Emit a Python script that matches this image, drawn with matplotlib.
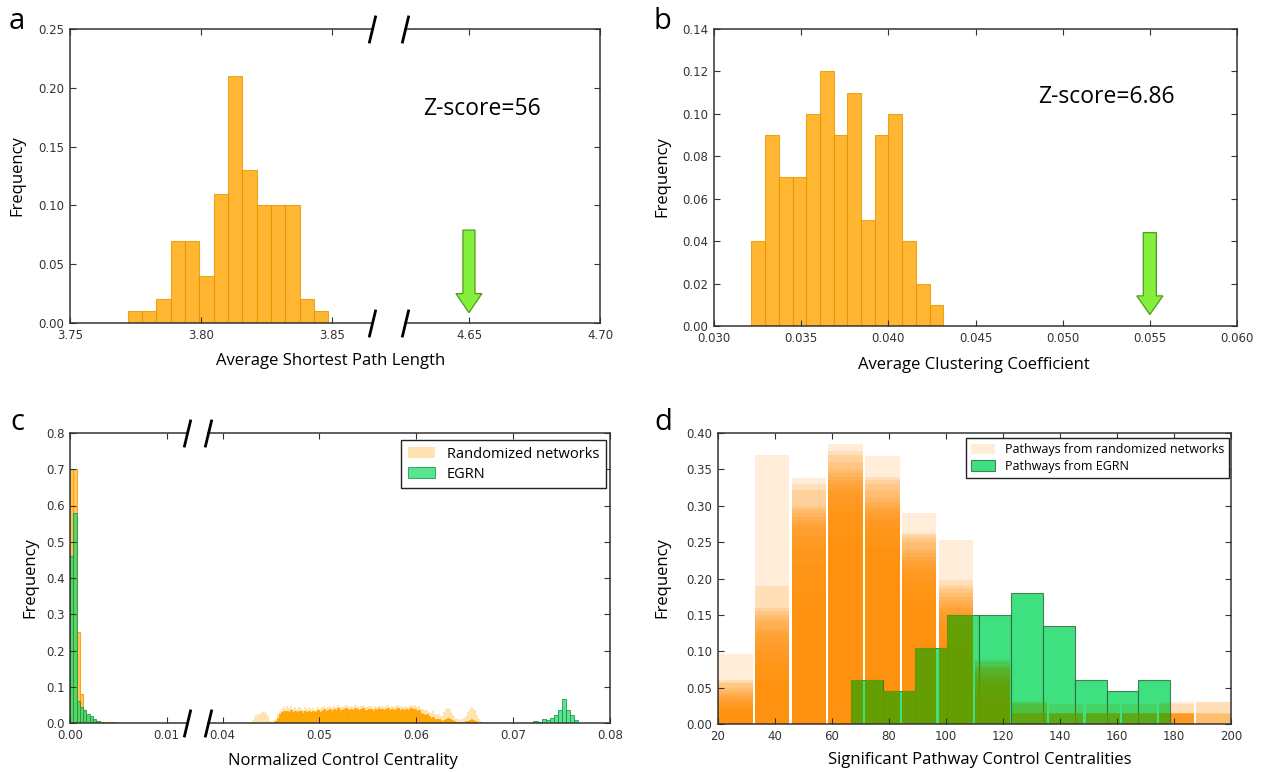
import numpy as np
import matplotlib
matplotlib.use("Agg")
import matplotlib.pyplot as plt
from matplotlib.path import Path
from matplotlib.patches import PathPatch

# ---------------- data ----------------
# (a) average shortest path length of randomized networks
a_range = (3.772, 3.8486)
a_freq = [0.01, 0.01, 0.02, 0.07, 0.07, 0.04, 0.11, 0.21, 0.13, 0.10, 0.10, 0.10, 0.02, 0.01]
a_egrn = 4.65
a_zscore = "Z-score=56"

# (b) average clustering coefficient of randomized networks
b_range = (0.03215, 0.04315)
b_freq = [0.04, 0.09, 0.07, 0.07, 0.10, 0.12, 0.09, 0.11, 0.05, 0.09, 0.10, 0.04, 0.02, 0.01]
b_egrn = 0.055
b_zscore = "Z-score=6.86"

# (c) normalized control centrality
c_bin_left = 0.00034
c_rand_left = [0.70, 0.70, 0.25, 0.08, 0.035, 0.02, 0.012, 0.008, 0.005, 0.004, 0.003,
               0.002, 0.002, 0.0015, 0.001, 0.001] + [0.0] * 20
c_egrn_left = [0.46, 0.58, 0.06, 0.045, 0.035, 0.025, 0.02, 0.01, 0.005, 0.002]

c_rand_start = 0.0386
c_bin_right = 0.0002
c_rand_light = [0.0] * 21 + [
    0.004, 0.008, 0.015, 0.022, 0.026, 0.024,
    0.030, 0.033, 0.028, 0.018, 0.006, 0.004,
    0.008, 0.012, 0.025, 0.034, 0.040, 0.044,
    0.038, 0.046, 0.042, 0.047, 0.040, 0.043,
    0.038, 0.045, 0.041, 0.036, 0.043, 0.040,
    0.044, 0.039, 0.042, 0.037, 0.041, 0.045,
    0.040, 0.043, 0.048, 0.042, 0.044, 0.046,
    0.041, 0.047, 0.044, 0.049, 0.045, 0.043,
    0.047, 0.050, 0.046, 0.044, 0.048, 0.045,
    0.049, 0.046, 0.043, 0.047, 0.050, 0.045,
    0.044, 0.048, 0.046, 0.042, 0.047, 0.044,
    0.050, 0.046, 0.048, 0.044, 0.047, 0.049,
    0.045, 0.048, 0.043, 0.046, 0.049, 0.044,
    0.047, 0.045, 0.048, 0.043, 0.046, 0.050,
    0.047, 0.051, 0.044, 0.048, 0.040, 0.038,
    0.035, 0.037, 0.030, 0.028, 0.032, 0.025,
    0.022, 0.026, 0.020, 0.018, 0.030, 0.038,
    0.042, 0.040, 0.028, 0.018, 0.012, 0.010,
    0.008, 0.012, 0.015, 0.020, 0.030, 0.040,
    0.044, 0.042, 0.036, 0.022, 0.012, 0.006,
    0.004, 0.002]
c_rand_core = [0.0] * 21 + [
    0.0, 0.0, 0.0, 0.0, 0.0, 0.0,
    0.0, 0.0, 0.0, 0.0, 0.0, 0.0,
    0.003, 0.006, 0.015, 0.025, 0.030, 0.033,
    0.028, 0.034, 0.030, 0.036, 0.031, 0.033,
    0.029, 0.034, 0.032, 0.028, 0.033, 0.031,
    0.034, 0.030, 0.033, 0.029, 0.032, 0.036,
    0.031, 0.034, 0.038, 0.033, 0.036, 0.038,
    0.034, 0.039, 0.036, 0.041, 0.037, 0.035,
    0.039, 0.042, 0.038, 0.036, 0.040, 0.037,
    0.041, 0.038, 0.035, 0.039, 0.042, 0.037,
    0.036, 0.040, 0.038, 0.034, 0.039, 0.036,
    0.041, 0.038, 0.040, 0.036, 0.039, 0.041,
    0.037, 0.040, 0.035, 0.038, 0.041, 0.036,
    0.039, 0.037, 0.040, 0.035, 0.038, 0.041,
    0.038, 0.040, 0.034, 0.036, 0.028, 0.025,
    0.022, 0.024, 0.018, 0.015, 0.017, 0.012,
    0.010, 0.012, 0.008, 0.006, 0.008, 0.012,
    0.014, 0.012, 0.008, 0.005, 0.003, 0.002,
    0.002, 0.003, 0.004, 0.005, 0.006, 0.008,
    0.010, 0.008, 0.006, 0.004, 0.002, 0.001,
    0.0, 0.0]
c_egrn_start = 0.0721
c_egrn_bin = 0.00042
c_egrn_right = [0.005, 0.003, 0.012, 0.008, 0.015, 0.022, 0.035, 0.066, 0.035, 0.022, 0.008]
c_labels = ["Randomized networks", "EGRN"]

# (d) significant pathway control centralities
d_rand_first = 20.0
d_rand_bin = 12.9
# one row per bin, values of the overlaid randomized-network histograms
d_rand_layers = [
    [0.096, 0.061, 0.058, 0.056, 0.050, 0.045, 0.043, 0.040, 0.036, 0.032, 0.030, 0.028, 0.025, 0.022, 0.020, 0.018],
    [0.370, 0.190, 0.160, 0.155, 0.150, 0.145, 0.140, 0.130, 0.126, 0.120, 0.110, 0.100, 0.090, 0.080, 0.070, 0.060],
    [0.338, 0.330, 0.322, 0.300, 0.295, 0.290, 0.285, 0.280, 0.275, 0.270, 0.260, 0.250, 0.240, 0.220, 0.200, 0.180],
    [0.385, 0.375, 0.370, 0.360, 0.350, 0.345, 0.340, 0.335, 0.330, 0.325, 0.320, 0.310, 0.300, 0.290, 0.280, 0.260],
    [0.368, 0.340, 0.336, 0.330, 0.320, 0.310, 0.305, 0.300, 0.295, 0.290, 0.285, 0.280, 0.270, 0.260, 0.250, 0.240],
    [0.290, 0.263, 0.260, 0.255, 0.250, 0.240, 0.235, 0.230, 0.225, 0.220, 0.215, 0.210, 0.200, 0.190, 0.180, 0.170],
    [0.253, 0.198, 0.190, 0.185, 0.180, 0.175, 0.170, 0.165, 0.160, 0.155, 0.150, 0.145, 0.140, 0.130, 0.120, 0.110],
    [0.088, 0.085, 0.080, 0.078, 0.075, 0.070, 0.068, 0.065, 0.060, 0.058, 0.055, 0.050, 0.045, 0.040, 0.035, 0.030],
    [0.030, 0.030, 0.028, 0.015, 0.015, 0.015, 0.015, 0.015, 0.014, 0.014, 0.0, 0.0, 0.0, 0.0, 0.0, 0.0],
    [0.028, 0.015, 0.015, 0.015, 0.015, 0.014, 0.014, 0.014, 0.0, 0.0, 0.0, 0.0, 0.0, 0.0, 0.0, 0.0],
    [0.027, 0.015, 0.015, 0.015, 0.015, 0.014, 0.014, 0.014, 0.0, 0.0, 0.0, 0.0, 0.0, 0.0, 0.0, 0.0],
    [0.027, 0.015, 0.015, 0.015, 0.015, 0.014, 0.014, 0.014, 0.0, 0.0, 0.0, 0.0, 0.0, 0.0, 0.0, 0.0],
    [0.030, 0.028, 0.015, 0.015, 0.015, 0.015, 0.015, 0.015, 0.014, 0.014, 0.014, 0.014, 0.0, 0.0, 0.0, 0.0],
    [0.030, 0.030, 0.015, 0.015, 0.014, 0.0, 0.0, 0.0, 0.0, 0.0, 0.0, 0.0, 0.0, 0.0, 0.0, 0.0],
]
d_egrn_first = 66.8
d_egrn_bin = 11.19
d_egrn = [0.06, 0.045, 0.105, 0.15, 0.15, 0.18, 0.135, 0.06, 0.045, 0.06]
d_labels = ["Pathways from randomized networks", "Pathways from EGRN"]

# ---------------- figure ----------------
W, H = 1264, 772
DPI = 100
fig = plt.figure(figsize=(W / DPI, H / DPI), dpi=DPI)
LABEL_FONT = "Open Sans"
TICK_COLOR = "#333333"


def add_ax(x0, x1, y0, y1):
    return fig.add_axes([x0 / W, 1 - y1 / H, (x1 - x0) / W, (y1 - y0) / H])


def style(ax, left=True, right=True):
    ax.tick_params(direction="in", length=4, width=0.8, colors=TICK_COLOR,
                   labelsize=8.5, top=True, bottom=True, left=left, right=right,
                   labelleft=left, labelright=False, pad=4)
    for s in ax.spines.values():
        s.set_color("#333333")
        s.set_linewidth(1.1)
    ax.spines["left"].set_visible(left)
    ax.spines["right"].set_visible(right)


def slashes(ax, x):
    ax.plot([x, x], [0, 1], transform=ax.transAxes, clip_on=False, ls="none",
            marker=[(-0.24, -1), (0.24, 1)], markersize=20, mec="k", mew=2, zorder=10)


def ftext(x, y, s, **kw):
    fig.text(x / W, 1 - y / H, s, **kw)


# ----- panel a -----
aL = add_ax(70, 372, 29, 323)
aR = add_ax(405, 600, 29, 323)
a_edges = np.linspace(a_range[0], a_range[1], len(a_freq) + 1)
for ax in (aL, aR):
    ax.bar(a_edges[:-1], a_freq, width=np.diff(a_edges), align="edge",
           color="orange", alpha=0.8, edgecolor="#e89500", linewidth=0.8)
    ax.set_ylim(0, 0.25)
    ax.set_yticks(np.arange(0, 0.2501, 0.05))
    ax.yaxis.set_major_formatter("{x:.2f}")
    ax.xaxis.set_major_formatter("{x:.2f}")
aL.set_xlim(3.75, 3.8653)
aL.set_xticks([3.75, 3.80, 3.85])
aR.set_xlim(4.6256, 4.70)
aR.set_xticks([4.65, 4.70])
style(aL, left=True, right=False)
style(aR, left=False, right=True)
aR.arrow(a_egrn, 0.079, 0, -0.0702, width=0.0046, head_width=0.0099,
         head_length=0.0162, length_includes_head=True, fc="#84f03c", ec="#4f9a22", lw=0.9)
slashes(aL, 1)
slashes(aR, 0)
ftext(9, 29, "a", fontsize=21, family=LABEL_FONT, va="baseline")
ftext(17, 176, "Frequency", fontsize=12, family=LABEL_FONT, rotation=90, ha="center", va="center")
ftext(331, 361, "Average Shortest Path Length", fontsize=12, family=LABEL_FONT, ha="center", va="center")
ftext(423, 115, a_zscore, fontsize=16.5, family=LABEL_FONT, va="baseline")

# ----- panel b -----
bA = add_ax(714, 1237, 29, 326)
b_edges = np.linspace(b_range[0], b_range[1], len(b_freq) + 1)
bA.bar(b_edges[:-1], b_freq, width=np.diff(b_edges), align="edge",
       color="orange", alpha=0.8, edgecolor="#e89500", linewidth=0.8)
bA.set_xlim(0.030, 0.060)
bA.set_ylim(0, 0.14)
bA.set_xticks(np.arange(0.030, 0.0601, 0.005))
bA.set_yticks(np.arange(0, 0.1401, 0.02))
bA.xaxis.set_major_formatter("{x:.3f}")
bA.yaxis.set_major_formatter("{x:.2f}")
style(bA)
bA.arrow(b_egrn, 0.044, 0, -0.0386, width=0.00075, head_width=0.0015,
         head_length=0.0088, length_includes_head=True, fc="#84f03c", ec="#4f9a22", lw=0.9)
ftext(654, 29, "b", fontsize=21, family=LABEL_FONT, va="baseline")
ftext(662, 177, "Frequency", fontsize=12, family=LABEL_FONT, rotation=90, ha="center", va="center")
ftext(974, 365, "Average Clustering Coefficient", fontsize=12, family=LABEL_FONT, ha="center", va="center")
ftext(1038, 103, b_zscore, fontsize=16.5, family=LABEL_FONT, va="baseline")

# ----- panel c -----
cL = add_ax(70, 187, 433, 723)
cR = add_ax(208, 610, 433, 723)
orange_light = (1.0, 0.647, 0.0, 0.3)
orange_core = (1.0, 0.647, 0.0, 0.95)
green_face = (0.08, 0.85, 0.38, 0.7)
green_edge = "#1f9a4c"

lefts = c_bin_left * np.arange(len(c_rand_left))
cL.bar(lefts, c_rand_left, width=c_bin_left, align="edge", facecolor=(1.0, 0.647, 0.0, 0.6),
       edgecolor=(1.0, 0.62, 0.0, 0.9), linewidth=0.8)
cL.bar(c_bin_left * np.arange(len(c_egrn_left)), c_egrn_left, width=c_bin_left, align="edge",
       facecolor=green_face, edgecolor=green_edge, linewidth=0.6)

rl = c_rand_start + c_bin_right * np.arange(len(c_rand_light))
h_light = cR.bar(rl, c_rand_light, width=c_bin_right, align="edge", facecolor=orange_light, linewidth=0)
cR.bar(rl, c_rand_core, width=c_bin_right, align="edge", facecolor=orange_core,
       edgecolor=(1.0, 0.647, 0.0, 1.0), linewidth=0.6)
h_green = cR.bar(c_egrn_start + c_egrn_bin * np.arange(len(c_egrn_right)), c_egrn_right,
                 width=c_egrn_bin, align="edge", facecolor=green_face, edgecolor=green_edge, linewidth=0.6)
for ax in (cL, cR):
    ax.set_ylim(0, 0.8)
    ax.set_yticks(np.arange(0, 0.801, 0.1))
    ax.yaxis.set_major_formatter("{x:.1f}")
    ax.xaxis.set_major_formatter("{x:.2f}")
cL.set_xlim(0, 0.0121)
cL.set_xticks([0.0, 0.01])
cR.set_xlim(0.0385, 0.080)
cR.set_xticks([0.04, 0.05, 0.06, 0.07, 0.08])
style(cL, left=True, right=False)
style(cR, left=False, right=True)
slashes(cL, 1)
slashes(cR, 0)
cR.legend([h_light, h_green], c_labels, loc="upper left", bbox_to_anchor=(401 / W, 1 - 440 / H),
          bbox_transform=fig.transFigure, borderaxespad=0, fancybox=False, framealpha=1,
          edgecolor="#222222", prop={"family": LABEL_FONT, "size": 10.5}, handlelength=1.9,
          handleheight=0.75, handletextpad=0.8, labelspacing=0.35, borderpad=0.45)
ftext(10, 430, "c", fontsize=21, family=LABEL_FONT, va="baseline")
ftext(30, 578, "Frequency", fontsize=12, family=LABEL_FONT, rotation=90, ha="center", va="center")
ftext(343, 761, "Normalized Control Centrality", fontsize=12, family=LABEL_FONT, ha="center", va="center")

# ----- panel d -----
dA = add_ax(718, 1231, 433, 724)
d_lefts = d_rand_first + d_rand_bin * np.arange(len(d_rand_layers))
layers = np.array(d_rand_layers).T
h_rand = None
for k, hts in enumerate(layers):
    bc = dA.bar(d_lefts, hts, width=0.94 * d_rand_bin, align="edge", color="darkorange",
                alpha=0.15, linewidth=0)
    if k == 0:
        h_rand = bc
g_lefts = d_egrn_first + d_egrn_bin * np.arange(len(d_egrn))
h_egrn = dA.bar(g_lefts, d_egrn, width=d_egrn_bin, align="edge", facecolor=(0.06, 0.85, 0.38, 0.8),
                edgecolor=(0.17, 0.40, 0.22, 0.8), linewidth=0.8)
# overlap of randomized and EGRN bars shows as olive
verts, codes = [], []
for x0, hh in zip(g_lefts, d_egrn):
    verts += [(x0, 0), (x0 + d_egrn_bin, 0), (x0 + d_egrn_bin, hh), (x0, hh), (x0, 0)]
    codes += [Path.MOVETO, Path.LINETO, Path.LINETO, Path.LINETO, Path.CLOSEPOLY]
clip = PathPatch(Path(verts, codes), transform=dA.transData)
for hts in layers:
    bc = dA.bar(d_lefts, hts, width=0.94 * d_rand_bin, align="edge", color="#6a9e00",
                alpha=0.15, linewidth=0)
    for p in bc:
        p.set_clip_path(clip)
dA.set_xlim(20, 200)
dA.set_ylim(0, 0.40)
dA.set_xticks(np.arange(20, 201, 20))
dA.set_yticks(np.arange(0, 0.401, 0.05))
dA.yaxis.set_major_formatter("{x:.2f}")
style(dA)
dA.legend([h_rand, h_egrn], d_labels, loc="upper left", bbox_to_anchor=(966 / W, 1 - 438 / H),
          bbox_transform=fig.transFigure, borderaxespad=0, fancybox=False, framealpha=1,
          edgecolor="#222222", prop={"family": LABEL_FONT, "size": 9}, handlelength=1.9,
          handleheight=0.9, handletextpad=0.8, labelspacing=0.3, borderpad=0.4)
ftext(654, 430, "d", fontsize=21, family=LABEL_FONT, va="baseline")
ftext(662, 578, "Frequency", fontsize=12, family=LABEL_FONT, rotation=90, ha="center", va="center")
ftext(980, 760, "Significant Pathway Control Centralities", fontsize=12, family=LABEL_FONT,
      ha="center", va="center")

fig.savefig("out.png", dpi=DPI)
